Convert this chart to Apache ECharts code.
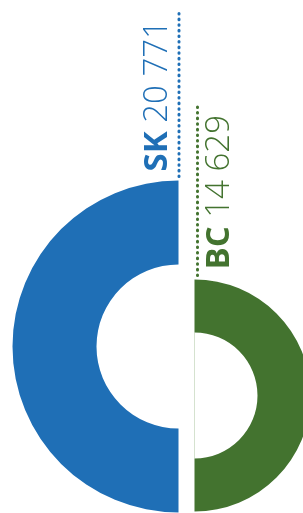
<!DOCTYPE html>
<html>
<head>
<meta charset="UTF-8">
<title></title>
<script src="https://cdn.jsdelivr.net/npm/echarts@6/dist/echarts.min.js"></script>
<style>
  html, body { margin: 0; padding: 0; background: #fff; }
  #chart { width: 303px; height: 513px; }
</style>
</head>
<body>
<div id="chart"></div>
<script>
var categories = ['SK', 'BC'];
var values = [20771, 14629];
var colors = ['#1f6fb6', '#43732f'];

// half-donut layout (pixels)
var centers = [[178.5, 346.5], [194.5, 395.5]];
var radii = [[82, 166], [63, 116]];
var textX = [158, 220];
var textBottom = [171.5, 269.5];
var lineX = [179, 197.5];
var lineTop = [10, 105];

var fontSize = 33;
var boldFont = 'bold ' + fontSize + 'px "Open Sans"';
var lightFont = '300 ' + fontSize + 'px "Open Sans"';

function fmt(v) {
  return String(v).replace(/\B(?=(\d{3})+(?!\d))/g, ' ');
}

var ctx = document.createElement('canvas').getContext('2d');
function textWidth(t, f) {
  ctx.font = f;
  return ctx.measureText(t).width;
}

var series = [];
var graphic = [];
for (var i = 0; i < categories.length; i++) {
  series.push({
    type: 'pie',
    center: centers[i],
    radius: radii[i],
    startAngle: 90,
    clockwise: i !== 0,
    silent: true,
    label: { show: false },
    labelLine: { show: false },
    emphasis: { disabled: true },
    data: [
      { name: categories[i], value: values[i], itemStyle: { color: colors[i] } },
      { name: '', value: values[i], itemStyle: { color: 'rgba(0,0,0,0)' } }
    ]
  });
  // dotted leader
  graphic.push({
    type: 'line',
    silent: true,
    shape: { x1: lineX[i], y1: centers[i][1] - radii[i][1] - 4, x2: lineX[i], y2: lineTop[i] },
    style: { stroke: colors[i], lineWidth: 3, lineDash: [0.6, 5], lineCap: 'round' }
  });
  // rotated label: bold code + light number
  var off = textWidth(categories[i] + ' ', boldFont);
  graphic.push({
    type: 'text',
    silent: true,
    x: textX[i],
    y: textBottom[i],
    rotation: Math.PI / 2,
    style: { text: categories[i], font: boldFont, fill: colors[i], textAlign: 'left', textVerticalAlign: 'middle' }
  });
  graphic.push({
    type: 'text',
    silent: true,
    x: textX[i],
    y: textBottom[i] - off,
    rotation: Math.PI / 2,
    style: { text: fmt(values[i]), font: lightFont, fill: colors[i], textAlign: 'left', textVerticalAlign: 'middle' }
  });
}

// faint edge on the inner side of the green half
graphic.push({
  type: 'line',
  silent: true,
  shape: { x1: centers[1][0], y1: centers[1][1] - radii[1][0], x2: centers[1][0], y2: centers[1][1] + radii[1][0] },
  style: { stroke: '#d5e2cf', lineWidth: 1 }
});

var myChart = echarts.init(document.getElementById('chart'));
myChart.setOption({
  animation: false,
  series: series,
  graphic: graphic
});
</script>
</body>
</html>
